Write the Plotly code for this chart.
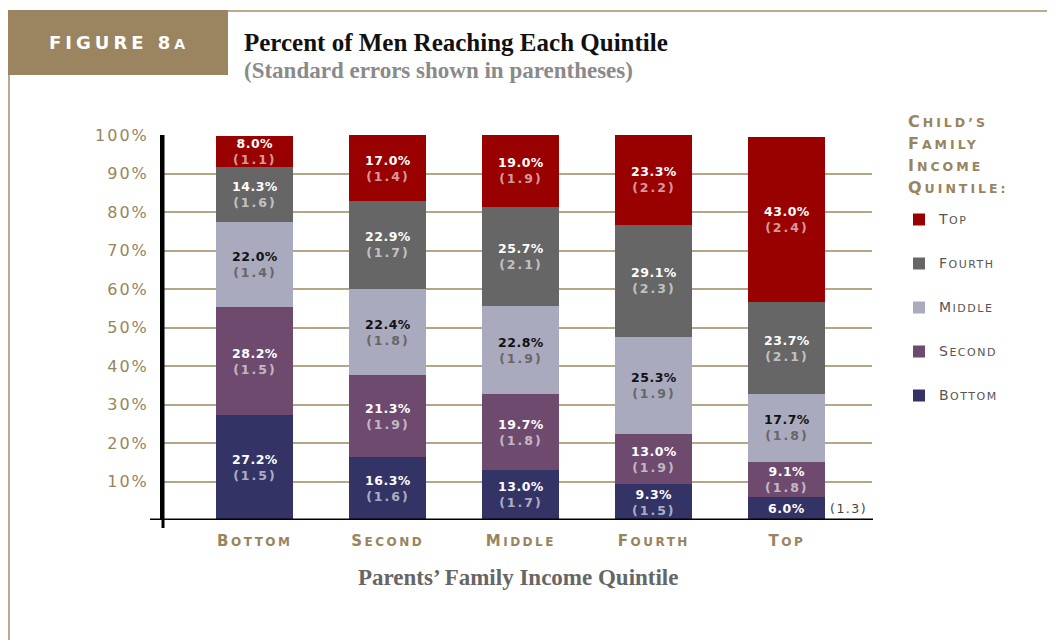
import plotly.graph_objects as go

# parents' quintile (x) and child's quintile (stacked series)
parents = ["Bottom", "Second", "Middle", "Fourth", "Top"]
children = ["Bottom", "Second", "Middle", "Fourth", "Top"]

# percent of men reaching each child quintile, per parent quintile
pct = {
    "Bottom": [27.2, 16.3, 13.0, 9.3, 6.0],
    "Second": [28.2, 21.3, 19.7, 13.0, 9.1],
    "Middle": [22.0, 22.4, 22.8, 25.3, 17.7],
    "Fourth": [14.3, 22.9, 25.7, 29.1, 23.7],
    "Top": [8.0, 17.0, 19.0, 23.3, 43.0],
}
# standard errors
se = {
    "Bottom": [1.5, 1.6, 1.7, 1.5, 1.3],
    "Second": [1.5, 1.9, 1.8, 1.9, 1.8],
    "Middle": [1.4, 1.8, 1.9, 1.9, 1.8],
    "Fourth": [1.6, 1.7, 2.1, 2.3, 2.1],
    "Top": [1.1, 1.4, 1.9, 2.2, 2.4],
}
y_ticks = [10, 20, 30, 40, 50, 60, 70, 80, 90, 100]

colors = {"Bottom": "#333366", "Second": "#6e4a6e", "Middle": "#aaaabf",
          "Fourth": "#666666", "Top": "#990000"}
TAN = "#98845e"

# page offset (body margin) and plot area in figure pixels
OFF = 8
L, R, T, B = 155, 864, 127, 512


def px(x):
    # page pixel -> paper x
    return (x - OFF - L) / (R - L)


def py(y):
    # page pixel -> paper y
    return (B - (y - OFF)) / (B - T)


def smallcaps(text, big, small, spacing=1):
    out = []
    for word in text.split(" "):
        first, rest = word[0], word[1:].upper()
        out.append(f"<span style='font-size:{big}px;letter-spacing:{spacing}px'>{first}</span>"
                   f"<span style='font-size:{small}px;letter-spacing:{spacing}px'>{rest}</span>")
    return " ".join(out)


fig = go.Figure()
for rank, child in enumerate(children):
    fig.add_trace(go.Bar(
        x=parents, y=pct[child], name=smallcaps(child, 14, 11, 1.5),
        marker=dict(color=colors[child], line=dict(width=0)),
        legendgroup=child, legendrank=100 - rank, hoverinfo="skip",
    ))

# value labels inside the segments
annotations = []
for i, parent in enumerate(parents):
    base = 0
    for child in children:
        v = pct[child][i]
        s = se[child][i]
        dark = child != "Middle"
        main_col = "white" if dark else "#111111"
        se_col = "rgba(255,255,255,0.62)" if dark else "#666666"
        se_txt = f"<span style='color:{se_col};letter-spacing:2px'>({s:.1f})</span>"
        main_txt = f"<span style='letter-spacing:0.5px'>{v:.1f}%</span>"
        if v < 7:
            annotations.append(dict(x=parent, y=base + v / 2, xref="x", yref="y", text=main_txt,
                                    showarrow=False, font=dict(family="DejaVu Sans", size=12.5,
                                                               color=main_col, weight="bold")))
            annotations.append(dict(x=parent, y=base + v / 2, xref="x", yref="y",
                                    text=f"<span style='letter-spacing:1.5px'>({s:.1f})</span>",
                                    showarrow=False, xanchor="left", xshift=41,
                                    font=dict(family="DejaVu Sans", size=12.5, color="#444444")))
        else:
            annotations.append(dict(x=parent, y=base + v / 2, xref="x", yref="y",
                                    text=main_txt + "<br>" + se_txt, showarrow=False, yshift=0,
                                    font=dict(family="DejaVu Sans", size=12.5, color=main_col,
                                              weight="bold")))
        base += v

fig_label = ("<span style='font-size:18px;letter-spacing:4px'>FIGURE 8</span>"
             "<span style='font-size:14px;letter-spacing:4px'>A</span>")

legend_title = "<br>".join(smallcaps(w, 16, 12.5, 3) for w in ["Child’s", "Family", "Income", "Quintile:"])

# header texts, legend heading and axis title
annotations += [
    dict(xref="paper", yref="paper", x=px(47), y=py(43), xanchor="left", yanchor="middle",
         text=fig_label, showarrow=False,
         font=dict(family="DejaVu Sans", color="white", weight="bold")),
    dict(xref="paper", yref="paper", x=px(242), y=py(42), xanchor="left", yanchor="middle",
         text="Percent of Men Reaching Each Quintile", showarrow=False,
         font=dict(family="Liberation Serif", size=25, color="#111111", weight="bold")),
    dict(xref="paper", yref="paper", x=px(242), y=py(70), xanchor="left", yanchor="middle",
         text="(Standard errors shown in parentheses)", showarrow=False,
         font=dict(family="Liberation Serif", size=23, color="#8a8a8a", weight="bold")),
    dict(xref="paper", yref="paper", x=0.5, y=py(577), xanchor="center", yanchor="middle",
         text="Parents’ Family Income Quintile", showarrow=False,
         font=dict(family="Liberation Serif", size=23, color="#666666", weight="bold")),
    dict(xref="paper", yref="paper", x=px(906), y=py(154), xanchor="left", yanchor="middle",
         text=legend_title, showarrow=False, align="left",
         font=dict(family="DejaVu Sans", size=17, color=TAN, weight="bold")),
]

shapes = [
    # header box and frame lines
    dict(type="rect", xref="paper", yref="paper", x0=px(8), x1=px(228), y0=py(75), y1=py(10),
         fillcolor="#9a8560", line=dict(width=0), layer="above"),
    dict(type="line", xref="paper", yref="paper", x0=px(228), x1=px(1070), y0=py(11), y1=py(11),
         line=dict(color="#b8aa8c", width=2)),
    dict(type="line", xref="paper", yref="paper", x0=px(9), x1=px(9), y0=py(75), y1=py(660),
         line=dict(color="#b8aa8c", width=2)),
    # baseline and axis overhang
    dict(type="line", xref="paper", yref="y", x0=px(150), x1=px(873), y0=0, y1=0,
         line=dict(color="black", width=3), layer="above"),
    dict(type="line", xref="paper", yref="paper", x0=0, x1=0, y0=py(528), y1=1,
         line=dict(color="black", width=3), layer="above"),
]

fig.update_layout(
    barmode="stack",
    bargap=0.42,
    width=1055, height=640,
    margin=dict(l=L, r=1055 - R, t=T, b=640 - B),
    paper_bgcolor="white", plot_bgcolor="white",
    font=dict(family="DejaVu Sans"),
    annotations=annotations,
    shapes=shapes,
    showlegend=True,
    legend=dict(
        x=px(899), y=py(205), xanchor="left", yanchor="top",
        traceorder="grouped", tracegroupgap=25,
        font=dict(family="DejaVu Sans", size=12, color="#555555"),
        itemclick=False, itemdoubleclick=False,
    ),
    xaxis=dict(
        range=[-0.69, 4.64], showgrid=False, zeroline=False, showline=False,
        tickvals=parents, ticktext=[smallcaps(p, 15, 12, 2.5) for p in parents],
        tickfont=dict(family="DejaVu Sans", color=TAN, weight="bold"),
        ticklabelstandoff=13, fixedrange=True,
    ),
    yaxis=dict(
        range=[0, 100], tickvals=y_ticks,
        ticktext=[f"<span style='letter-spacing:2px'>{v}%</span>" for v in y_ticks],
        showgrid=True, gridcolor="#b5a688", gridwidth=2, zeroline=False,
        showline=True, linecolor="black", linewidth=3,
        tickfont=dict(family="DejaVu Sans", size=16, color=TAN),
        ticklabelstandoff=8, fixedrange=True,
    ),
)

fig.write_html("out.html")
